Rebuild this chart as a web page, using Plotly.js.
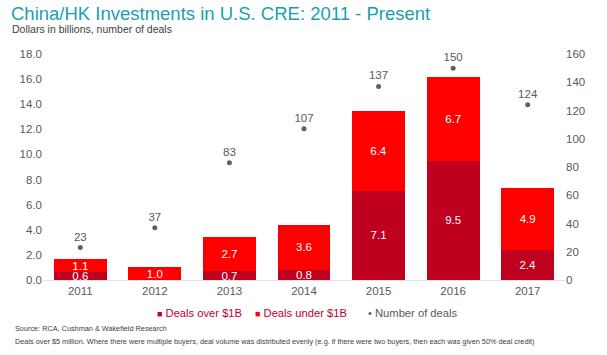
<!DOCTYPE html>
<html>
<head>
<meta charset="utf-8">
<script src="https://cdn.plot.ly/plotly-3.0.1.min.js"></script>
<style>html,body{margin:0;padding:0;background:#fff;}#chart{width:607px;height:355px;}</style>
</head>
<body>
<div id="chart"></div>
<script>
var years = ['2011','2012','2013','2014','2015','2016','2017'];
var dealsOver1B = [0.6, 0, 0.7, 0.8, 7.1, 9.5, 2.4];
var dealsUnder1B = [1.1, 1.0, 2.7, 3.6, 6.4, 6.7, 4.9];
var numberOfDeals = [23, 37, 83, 107, 137, 150, 124];
var leftTicks = [0,2,4,6,8,10,12,14,16,18];
var rightTicks = [0,20,40,60,80,100,120,140,160];
var seriesNames = ['Deals over $1B', 'Deals under $1B', 'Number of deals'];
var seriesColors = ['#c0001f', '#ff0000', '#606060'];

function lbl(arr){ return arr.map(function(v){ return v > 0 ? v.toFixed(1) : ''; }); }

var font = 'Liberation Sans, Arial, sans-serif';
var traces = [
  {type:'bar', x:years, y:dealsOver1B, name:seriesNames[0],
   marker:{color:seriesColors[0]}, text:lbl(dealsOver1B), textposition:'inside',
   insidetextanchor:'middle', constraintext:'none',
   textfont:{color:'#ffffff', size:11.5, family:font}, hoverinfo:'none'},
  {type:'bar', x:years, y:dealsUnder1B, name:seriesNames[1],
   marker:{color:seriesColors[1]}, text:lbl(dealsUnder1B), textposition:'inside',
   insidetextanchor:'middle', constraintext:'none',
   textfont:{color:'#ffffff', size:11.5, family:font}, hoverinfo:'none'},
  {type:'scatter', mode:'markers+text', x:years, y:numberOfDeals, yaxis:'y2',
   name:seriesNames[2],
   marker:{color:seriesColors[2], size:5}, text:numberOfDeals.map(String),
   textposition:'top center', textfont:{color:'#595959', size:11.5, family:font},
   cliponaxis:false, hoverinfo:'none'}
];

function px2x(px){ return (px - 43) / 522; }
function px2y(py){ return (280 - py) / 226; }

var legendAnn = [
  {x:px2x(155), text:"<span style='font-size:9px;color:" + seriesColors[0] + "'>■</span> " + seriesNames[0], color:'#c0001f'},
  {x:px2x(253), text:"<span style='font-size:9px;color:" + seriesColors[1] + "'>■</span> " + seriesNames[1], color:'#c0001f'},
  {x:px2x(366), text:"<span style='color:" + seriesColors[2] + "'>•</span> " + seriesNames[2], color:'#595959'}
].map(function(a){
  return {text:a.text, xref:'paper', yref:'paper', x:a.x, y:px2y(313), xanchor:'left', yanchor:'middle',
          showarrow:false, font:{size:11.2, color:a.color, family:font}};
});

var layout = {
  width:607, height:355,
  margin:{l:43, r:42, t:54, b:75},
  paper_bgcolor:'#ffffff', plot_bgcolor:'#ffffff',
  barmode:'stack', bargap:0.29,
  font:{family:font, color:'#595959', size:11},
  showlegend:false,
  xaxis:{type:'category', showgrid:false, zeroline:false, showline:true,
         linecolor:'#e6e6e6', linewidth:1, ticks:'', tickfont:{size:11.5, color:'#595959'}},
  yaxis:{range:[0,18], tickvals:leftTicks, tickformat:'.1f', showgrid:false, zeroline:false,
         showline:false, ticks:'', tickfont:{size:11.5, color:'#595959'}},
  yaxis2:{range:[0,160], tickvals:rightTicks, overlaying:'y', side:'right', showgrid:false,
          zeroline:false, showline:false, ticks:'', tickfont:{size:11.5, color:'#595959'}},
  annotations:[
    {text:'China/HK Investments in U.S. CRE: 2011 - Present', xref:'paper', yref:'paper',
     x:px2x(9), y:px2y(13), xanchor:'left', yanchor:'middle', showarrow:false,
     font:{size:18.5, color:'#1a9fae', family:font}},
    {text:'Dollars in billions, number of deals', xref:'paper', yref:'paper',
     x:px2x(10), y:px2y(29), xanchor:'left', yanchor:'middle', showarrow:false,
     font:{size:10.5, color:'#404040', family:font}},
    {text:'Source: RCA, Cushman & Wakefield Research', xref:'paper', yref:'paper',
     x:px2x(13), y:px2y(328), xanchor:'left', yanchor:'middle', showarrow:false,
     font:{size:7.3, color:'#404040', family:font}},
    {text:'Deals over $5 million. Where there were multiple buyers, deal volume was distributed evenly (e.g. if there were two buyers, then each was given 50% deal credit)',
     xref:'paper', yref:'paper', x:px2x(13), y:px2y(341), xanchor:'left', yanchor:'middle', showarrow:false,
     font:{size:7.3, color:'#404040', family:font}}
  ].concat(legendAnn)
};

Plotly.newPlot('chart', traces, layout, {displayModeBar:false, staticPlot:true});
</script>
</body>
</html>
